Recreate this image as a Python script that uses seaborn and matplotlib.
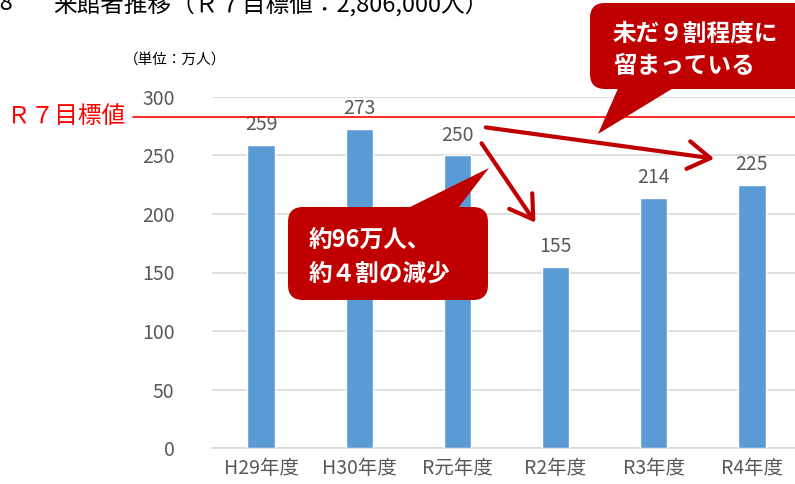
import matplotlib
matplotlib.use("Agg")
import matplotlib.pyplot as plt
import matplotlib.transforms as mtransforms
from matplotlib.patches import FancyBboxPatch, Polygon, FancyArrowPatch
from matplotlib.lines import Line2D
import seaborn as sns
import pandas as pd

years = ["H29年度", "H30年度", "R元年度", "R2年度", "R3年度", "R4年度"]
visitors = [259, 273, 250, 155, 214, 225]
target = 283

sns.set_theme(style="white")
plt.rcParams['font.family'] = ['Noto Sans CJK JP', 'DejaVu Sans']

W, H = 795, 484
fig = plt.figure(figsize=(W / 100, H / 100), dpi=100)
# pixel coordinates, origin top-left
px = mtransforms.Affine2D().scale(1 / W, -1 / H).translate(0, 1) + fig.transFigure

ax_l, ax_r, ax_t, ax_b = 212, 801, 97, 448
ax = fig.add_axes([ax_l / W, (H - ax_b) / H, (ax_r - ax_l) / W, (ax_b - ax_t) / H])

df = pd.DataFrame({"year": years, "visitors": visitors})
sns.barplot(data=df, x="year", y="visitors", color="#5B9BD5", width=0.28, ax=ax,
            saturation=1, zorder=3)
ax.set_ylim(0, 300)
ax.set_yticks(range(0, 301, 50))
ax.set_xlabel("")
ax.set_ylabel("")
ax.grid(axis="y", color="#D9D9D9", linewidth=1.2, zorder=0)
for s in ["top", "right", "left"]:
    ax.spines[s].set_visible(False)
ax.spines["bottom"].set_color("#D9D9D9")
ax.spines["bottom"].set_linewidth(1.2)
ax.tick_params(axis="both", length=0, labelsize=14, labelcolor="#595959")
ax.tick_params(axis="y", pad=27)
ax.tick_params(axis="x", pad=7)

for i, v in enumerate(visitors):
    ax.annotate(str(v), (i, v), xytext=(0, 7), textcoords="offset points",
                ha="center", va="bottom", fontsize=14, color="#595959")

# target line extending to the left of the axes
blend = mtransforms.blended_transform_factory(px, ax.transData)
fig.add_artist(Line2D([133, W], [target, target], transform=blend, color="#FF0000",
                      linewidth=1.2, zorder=5))
ax.text(125, target, "Ｒ７目標値", transform=blend, ha="right", va="center",
        fontsize=17, color="#FF0000", clip_on=False)

# title (cut off at the top) and unit
fig.text(14, 4, "図8", transform=px, ha="right", va="center", fontsize=17, color="#000000")
fig.text(53, 4, "来館者推移（Ｒ７目標値：2,806,000人）", transform=px, ha="left",
         va="center", fontsize=17, color="#000000")
fig.text(124, 60, "（単位：万人）", transform=px, ha="left", va="center", fontsize=10.5,
         color="#000000")

red = "#C00000"
# arrows from R元 label
for start, tip in [((483, 127), (717, 159)), ((480, 141), (537, 225))]:
    fig.add_artist(FancyArrowPatch(
        start, tip, transform=px, arrowstyle="->,head_length=8,head_width=5",
        color=red, linewidth=3, mutation_scale=2, zorder=6))

# callout 1
fig.add_artist(Polygon([(400, 212), (489, 168), (455, 212)], closed=True,
                       transform=px, facecolor=red, edgecolor="none", zorder=7))
fig.add_artist(FancyBboxPatch((288, 207), 200, 93, boxstyle="round,pad=0,rounding_size=15",
                              transform=px, facecolor=red, edgecolor="none", zorder=7))
fig.text(309, 240, "約96万人、", transform=px, ha="left", va="center", fontsize=17,
         fontweight="bold", color="white", zorder=8)
fig.text(309, 274, "約４割の減少", transform=px, ha="left", va="center", fontsize=17,
         fontweight="bold", color="white", zorder=8)

# callout 2
fig.add_artist(Polygon([(620, 84), (598, 134), (680, 84)], closed=True,
                       transform=px, facecolor=red, edgecolor="none", zorder=7))
fig.add_artist(FancyBboxPatch((590, 3), 230, 86, boxstyle="round,pad=0,rounding_size=15",
                              transform=px, facecolor=red, edgecolor="none", zorder=7))
fig.text(613, 33, "未だ９割程度に", transform=px, ha="left", va="center", fontsize=17,
         fontweight="bold", color="white", zorder=8)
fig.text(613, 66, "留まっている", transform=px, ha="left", va="center", fontsize=17,
         fontweight="bold", color="white", zorder=8)

fig.savefig("out.png", dpi=100)
